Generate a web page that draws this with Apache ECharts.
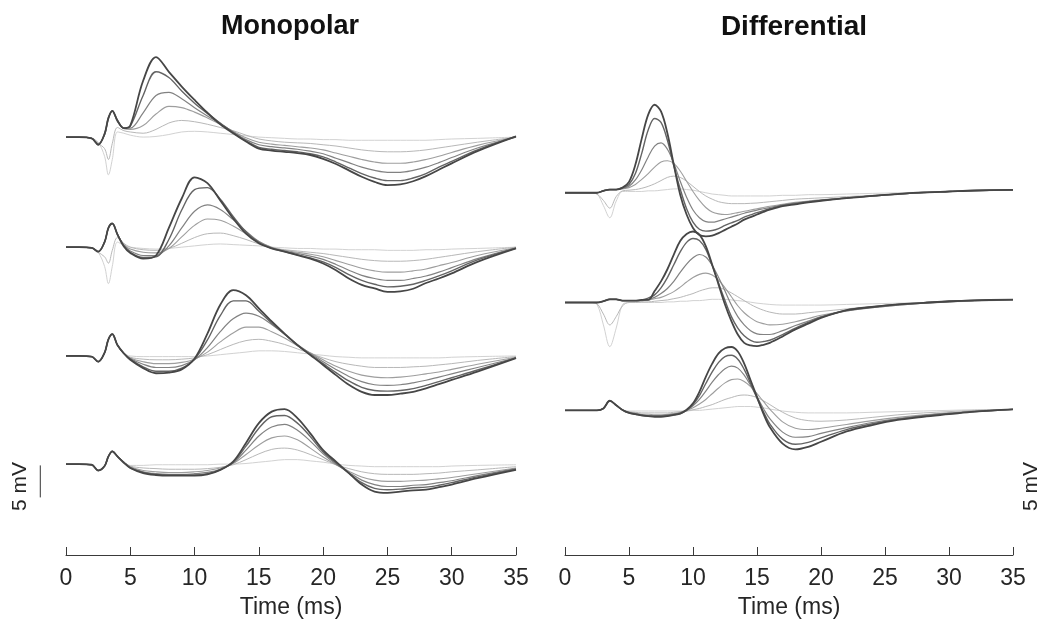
<!DOCTYPE html>
<html>
<head>
<meta charset="utf-8">
<script src="https://cdn.jsdelivr.net/npm/echarts@6/dist/echarts.min.js"></script>
<style>
html,body{margin:0;padding:0;background:#fff;}
#chart{width:1048px;height:621px;}
</style>
</head>
<body>
<div id="chart"></div>
<script>
// ---- time bases (ms) ----
const timeMono = [0,1,2,2.5,3,3.3,3.6,4,4.5,5,6,7,8,9,10,11,12,13,14,15,16,17,18,19,20,21,22,23,24,25,26,27,28,29,30,32,35];
const timeDiff = [0,1,2,2.5,3,3.5,4,4.5,5,5.5,6,6.5,7,7.5,8,8.5,9,9.5,10,10.5,11,11.5,12,12.5,13,13.5,14,14.5,15,15.5,16,17,18,19,20,22,24,26,28,30,32,35];

// ---- channel baselines in the stacked display (mV) ----
const monoBaseMv = [65.3, 48.1, 31.1, 14.2];
const diffBaseMv = [56.6, 39.45, 22.6];

// ---- Monopolar traces (mV), light -> dark ----
const mono1 = [
 [0,0,-0.2,-0.8,-3.0,-5.9,-3.5,0.8,0.6,0.3, 0.0,0.1,0.4,0.8,0.9,0.8,0.6,0.4,0.2,0.0,-0.1,-0.2,-0.3,-0.3,-0.4,-0.4,-0.5,-0.5,-0.5,-0.5,-0.5,-0.5,-0.5,-0.4,-0.3, -0.2,0.0],
 [0,0,-0.2,-1.0,-1.8,-3.5,-1.0,1.5,1.0,0.8, 0.6,1.2,2.2,2.6,2.4,2.0,1.5,1.0,0.3,-0.3,-0.6,-0.8,-0.9,-1.0,-1.2,-1.4,-1.7,-2.0,-2.2,-2.3,-2.3,-2.2,-2.0,-1.7,-1.4, -0.8,0.0],
 [0,0,-0.2,-1.0,0.3,2.8,4.0,2.4,1.3,1.2, 1.8,3.6,4.8,4.6,3.9,3.0,2.0,0.9,-0.1,-0.8,-1.1,-1.3,-1.5,-1.7,-2.0,-2.5,-3.0,-3.5,-3.9,-4.1,-4.1,-3.9,-3.5,-3.0,-2.4, -1.3,0.0],
 [0,0,-0.2,-1.1,0.4,3.0,4.1,2.5,1.4,1.4, 3.8,6.5,7.0,6.0,4.6,3.3,2.1,0.8,-0.4,-1.2,-1.5,-1.7,-1.9,-2.2,-2.6,-3.3,-4.0,-4.7,-5.2,-5.5,-5.5,-5.2,-4.7,-4.0,-3.2, -1.7,0.0],
 [0,0,-0.2,-1.2,0.5,3.0,4.1,2.6,1.4,1.7, 6.5,10.2,9.3,7.2,5.3,3.7,2.2,0.7,-0.6,-1.6,-1.9,-2.1,-2.3,-2.6,-3.1,-3.9,-4.8,-5.7,-6.4,-6.8,-6.8,-6.4,-5.7,-4.7,-3.8, -2.0,0.1],
 [0,0,-0.2,-1.2,0.5,3.0,4.1,2.6,1.4,1.8, 8.8,12.5,10.2,7.9,5.8,3.8,2.0,0.6,-0.7,-1.8,-2.1,-2.3,-2.5,-2.8,-3.4,-4.2,-5.2,-6.2,-7.0,-7.5,-7.4,-6.9,-6.1,-5.1,-4.1, -2.2,0.1]
];
const mono2 = [
 [0,0,-0.1,-0.8,-3.0,-5.7,-3.0,0.8,0.3,0.0, -0.2,-0.3,-0.2,0.0,0.2,0.4,0.5,0.4,0.3,0.2,0.0,-0.1,-0.2,-0.2,-0.3,-0.3,-0.4,-0.4,-0.4,-0.5,-0.5,-0.5,-0.4,-0.4,-0.3, -0.2,0.0],
 [0,0,-0.1,-0.8,-1.5,-2.5,-0.5,1.5,0.6,0.0, -0.4,-0.5,-0.2,0.6,1.5,2.1,2.2,1.8,1.2,0.5,-0.1,-0.4,-0.6,-0.8,-1.0,-1.3,-1.6,-1.9,-2.1,-2.2,-2.2,-2.1,-1.9,-1.6,-1.3, -0.7,0.0],
 [0,0,-0.1,-0.7,0.8,3.0,3.7,2.0,0.4,-0.3, -0.8,-0.9,-0.2,1.6,3.4,4.4,4.2,3.3,2.1,0.9,0.0,-0.5,-0.8,-1.1,-1.5,-2.1,-2.7,-3.3,-3.7,-3.9,-3.9,-3.7,-3.4,-2.9,-2.4, -1.3,-0.1],
 [0,0,-0.1,-0.7,0.8,3.0,3.7,2.0,0.3,-0.6, -1.3,-1.3,0.2,3.0,5.6,6.6,5.9,4.3,2.5,0.9,-0.1,-0.6,-1.0,-1.4,-1.9,-2.7,-3.6,-4.4,-4.9,-5.2,-5.2,-4.9,-4.5,-3.9,-3.2, -1.8,-0.1],
 [0,0,-0.1,-0.7,0.8,3.0,3.7,2.0,0.2,-0.8, -1.6,-1.5,1.2,5.8,9.0,9.3,7.5,4.8,2.4,0.7,-0.2,-0.7,-1.2,-1.7,-2.3,-3.2,-4.3,-5.2,-5.8,-6.2,-6.1,-5.8,-5.2,-4.5,-3.7, -2.0,-0.2],
 [0,0,-0.1,-0.7,0.8,3.0,3.7,2.0,0.1,-0.9, -1.8,-1.3,3.0,7.6,10.9,10.0,7.3,4.5,2.1,0.6,-0.2,-0.7,-1.25,-1.8,-2.55,-3.6,-4.9,-5.9,-6.45,-7.0,-6.9,-6.5,-5.6,-4.9,-4.1, -2.3,-0.2]
];
const mono3 = [
 [0,0,-0.1,-0.9,0.5,2.6,3.4,1.7,0.4,0.0, -0.1,-0.1,-0.1,-0.1,-0.1,0.0,0.2,0.4,0.6,0.8,0.8,0.7,0.5,0.3,0.1,-0.1,-0.2,-0.3,-0.3,-0.3,-0.3,-0.3,-0.3,-0.3,-0.2, -0.1,0.0],
 [0,0,-0.1,-0.9,0.5,2.6,3.4,1.7,0.4,-0.2, -0.5,-0.6,-0.6,-0.5,-0.3,0.2,1.0,1.8,2.4,2.6,2.3,1.8,1.1,0.4,-0.3,-0.9,-1.3,-1.6,-1.8,-1.8,-1.8,-1.7,-1.6,-1.4,-1.2, -0.7,-0.1],
 [0,0,-0.1,-0.9,0.5,2.6,3.4,1.7,0.4,-0.3, -0.9,-1.2,-1.2,-1.0,-0.5,0.6,2.2,3.6,4.5,4.5,3.8,2.8,1.6,0.5,-0.6,-1.6,-2.4,-3.0,-3.3,-3.4,-3.3,-3.1,-2.8,-2.5,-2.1, -1.3,-0.2],
 [0,0,-0.1,-0.9,0.5,2.6,3.4,1.7,0.4,-0.4, -1.3,-1.8,-1.8,-1.5,-0.6,1.3,3.8,5.8,6.7,6.2,4.9,3.4,1.8,0.4,-0.9,-2.1,-3.2,-4.0,-4.5,-4.6,-4.5,-4.2,-3.8,-3.3,-2.8, -1.8,-0.3],
 [0,0,-0.1,-0.9,0.5,2.6,3.4,1.7,0.4,-0.5, -1.7,-2.4,-2.4,-1.9,-0.5,2.5,6.3,8.6,8.6,7.0,5.1,3.4,1.7,0.2,-1.2,-2.6,-3.9,-4.9,-5.4,-5.5,-5.4,-5.1,-4.6,-4.0,-3.4, -2.2,-0.3],
 [0,0,-0.1,-0.9,0.5,2.6,3.4,1.7,0.4,-0.6, -1.9,-2.7,-2.6,-2.1,-0.4,3.5,8.0,10.3,9.5,7.45,5.4,3.5,1.7,0.15,-1.4,-3.0,-4.5,-5.6,-6.1,-6.1,-5.9,-5.6,-5.05,-4.4,-3.75, -2.45,-0.35]
];
const mono4 = [
 [0,0,-0.1,-1.0,-0.3,1.2,2.0,1.2,0.3,-0.2, -0.2,-0.1,-0.1,-0.1,-0.1,-0.1,0.0,0.0,0.1,0.3,0.5,0.7,0.7,0.5,0.3,0.0,-0.2,-0.3,-0.4,-0.4,-0.4,-0.4,-0.4,-0.4,-0.3, -0.2,-0.1],
 [0,0,-0.1,-1.0,-0.3,1.2,2.0,1.2,0.3,-0.3, -0.6,-0.7,-0.8,-0.8,-0.8,-0.7,-0.5,-0.1,0.7,1.6,2.3,2.5,2.2,1.5,0.7,-0.1,-0.7,-1.2,-1.5,-1.6,-1.6,-1.6,-1.5,-1.4,-1.2, -0.9,-0.4],
 [0,0,-0.1,-1.0,-0.3,1.2,2.0,1.2,0.3,-0.4, -1.0,-1.2,-1.3,-1.3,-1.2,-1.0,-0.6,0.1,1.5,3.0,4.1,4.4,3.8,2.5,1.1,-0.1,-1.1,-2.0,-2.5,-2.7,-2.7,-2.6,-2.5,-2.3,-2.1, -1.5,-0.6],
 [0,0,-0.1,-1.0,-0.3,1.2,2.0,1.2,0.3,-0.5, -1.2,-1.5,-1.6,-1.6,-1.5,-1.3,-0.8,0.2,2.2,4.4,5.8,6.2,5.3,3.6,1.6,0.0,-1.3,-2.5,-3.2,-3.5,-3.5,-3.3,-3.2,-2.9,-2.6, -1.8,-0.7],
 [0,0,-0.1,-1.0,-0.3,1.2,2.0,1.2,0.3,-0.6, -1.3,-1.6,-1.7,-1.7,-1.7,-1.5,-0.9,0.3,2.8,5.6,7.4,7.6,6.4,4.3,1.9,0.2,-1.4,-2.9,-3.8,-4.0,-3.9,-3.7,-3.6,-3.3,-2.9, -2.0,-0.8],
 [0,0,-0.1,-1.0,-0.3,1.2,2.0,1.2,0.2,-0.6, -1.4,-1.7,-1.8,-1.8,-1.8,-1.6,-0.9,0.4,3.3,6.4,8.2,8.6,7.2,4.8,2.2,0.4,-1.4,-3.2,-4.3,-4.5,-4.3,-4.1,-4.0,-3.6,-3.2, -2.2,-0.9]
];

// ---- Differential traces (mV), light -> dark ----
const diff1 = [
 [0,0,0,-0.2,-2.0,-3.9,-1.3,0.2,0.2,0.2,0.2,0.3,0.3,0.4,0.5,0.6,0.6,0.5,0.4,0.2,0.0,-0.2,-0.3,-0.4,-0.5,-0.5,-0.5, -0.5,-0.5,-0.5,-0.5, -0.4,-0.4,-0.3,-0.3,-0.2,-0.1,0.0,0.1,0.2,0.3,0.4],
 [0,0,0,-0.2,-1.2,-2.4,-0.6,0.3,0.4,0.5,0.7,1.0,1.4,1.9,2.4,2.6,2.4,1.8,1.0,0.2,-0.5,-1.0,-1.4,-1.6,-1.7,-1.7,-1.7, -1.65,-1.6,-1.5,-1.4, -1.2,-1.0,-0.9,-0.8,-0.6,-0.4,-0.2,0.0,0.2,0.3,0.4],
 [0,0,0,0.0,0.3,0.5,0.5,0.6,0.8,1.3,2.1,3.0,4.0,4.8,5.0,4.6,3.4,1.8,0.2,-1.2,-2.3,-3.0,-3.3,-3.4,-3.3,-3.1,-2.9, -2.7,-2.5,-2.3,-2.1, -1.8,-1.5,-1.3,-1.1,-0.8,-0.5,-0.2,0.0,0.2,0.3,0.4],
 [0,0,0,0.0,0.3,0.5,0.5,0.7,1.0,2.0,3.6,5.6,7.3,7.8,6.8,4.6,1.8,-0.7,-2.7,-3.9,-4.5,-4.6,-4.4,-4.1,-3.8,-3.5,-3.2, -2.95,-2.7,-2.5,-2.3, -1.9,-1.6,-1.4,-1.2,-0.8,-0.5,-0.2,0.0,0.2,0.35,0.45],
 [0,0,0,0.0,0.3,0.5,0.5,0.8,1.3,3.0,6.2,9.8,11.6,11.0,8.2,4.2,0.6,-2.5,-4.6,-5.7,-6.0,-5.9,-5.6,-5.1,-4.7,-4.3,-3.8, -3.45,-3.1,-2.8,-2.5, -2.0,-1.7,-1.4,-1.2,-0.8,-0.5,-0.2,0.05,0.2,0.35,0.45],
 [0,0,0,0.0,0.3,0.5,0.5,0.8,1.7,4.4,8.5,12.2,13.75,12.7,9.3,4.4,-0.3,-3.4,-5.5,-6.6,-6.8,-6.7,-6.3,-5.8,-5.3,-4.8,-4.2, -3.8,-3.4,-3.0,-2.65, -2.1,-1.8,-1.5,-1.25,-0.85,-0.5,-0.2,0.05,0.2,0.35,0.45]
];
const diff2 = [
 [0,0,0,-0.3,-3.5,-6.9,-4.0,-0.3,0.0,0.0,0.0,0.0,0.0,0.0,0.1,0.1,0.2,0.2,0.3,0.3,0.4,0.5,0.5,0.5,0.4,0.3,0.2, 0.05,-0.1,-0.2,-0.3, -0.4,-0.4,-0.4,-0.4,-0.3,-0.2,-0.1,0.0,0.1,0.2,0.4],
 [0,0,0,-0.2,-1.8,-3.5,-2.2,-0.5,0.0,0.0,0.1,0.1,0.2,0.3,0.4,0.6,0.8,1.1,1.4,1.8,2.1,2.3,2.3,2.0,1.5,0.9,0.3, -0.3,-0.8,-1.2,-1.5, -1.8,-1.8,-1.6,-1.4,-1.0,-0.6,-0.3,-0.1,0.1,0.3,0.4],
 [0,0,0,0.0,0.2,0.5,0.5,0.3,0.3,0.3,0.3,0.4,0.6,0.8,1.2,1.7,2.4,3.2,3.9,4.4,4.6,4.3,3.5,2.3,0.9,-0.5,-1.6, -2.4,-3.0,-3.3,-3.5, -3.4,-3.0,-2.5,-2.0,-1.3,-0.8,-0.4,-0.1,0.1,0.3,0.45],
 [0,0,0,0.0,0.2,0.5,0.5,0.3,0.3,0.3,0.3,0.5,0.8,1.4,2.2,3.3,4.7,6.0,7.0,7.5,7.1,5.8,3.9,1.8,-0.4,-2.2,-3.5, -4.4,-4.9,-5.0,-5.0, -4.4,-3.6,-2.9,-2.2,-1.3,-0.8,-0.4,-0.1,0.1,0.3,0.45],
 [0,0,0,0.0,0.2,0.5,0.5,0.3,0.3,0.3,0.4,0.7,1.2,2.3,3.9,5.9,7.9,9.4,10.0,9.7,8.3,5.8,3.0,0.3,-2.2,-4.0,-5.2, -5.9,-6.2,-6.1,-5.9, -5.0,-4.0,-3.1,-2.3,-1.2,-0.7,-0.3,-0.05,0.2,0.35,0.45],
 [0,0,0,0.0,0.2,0.5,0.5,0.3,0.3,0.3,0.4,0.4,1.8,3.3,5.2,7.5,9.6,10.7,11.1,10.6,8.8,5.9,2.8,-0.3,-2.9,-5.0,-6.3, -6.7,-6.8,-6.6,-6.3, -5.3,-4.2,-3.3,-2.4,-1.2,-0.7,-0.3,-0.05,0.2,0.35,0.45]
];
const diff3 = [
 [0,0,0,0.0,0.3,1.5,0.8,0.05,-0.1,-0.1,-0.1,-0.1,-0.1,-0.1,-0.1,-0.1,-0.1,-0.1,0.0,0.0,0.1,0.2,0.3,0.4,0.5,0.6,0.6, 0.6,0.5,0.4,0.2, -0.1,-0.3,-0.4,-0.4,-0.4,-0.3,-0.2,-0.1,0.0,0.1,0.15],
 [0,0,0,0.0,0.3,1.5,0.8,0.05,-0.2,-0.3,-0.4,-0.4,-0.4,-0.4,-0.4,-0.3,-0.2,-0.1,0.1,0.3,0.6,0.9,1.3,1.7,2.0,2.3,2.4, 2.3,2.0,1.5,0.9, -0.3,-1.2,-1.6,-1.7,-1.5,-1.1,-0.7,-0.4,-0.2,0.0,0.15],
 [0,0,0,0.0,0.3,1.5,0.8,0.05,-0.3,-0.4,-0.6,-0.6,-0.7,-0.7,-0.6,-0.5,-0.3,0.0,0.4,1.0,1.7,2.6,3.5,4.3,4.8,4.9,4.5, 3.7,2.6,1.4,0.2, -1.8,-2.8,-3.0,-2.8,-2.2,-1.6,-1.1,-0.7,-0.4,-0.1,0.15],
 [0,0,0,0.0,0.3,1.5,0.8,0.05,-0.3,-0.5,-0.7,-0.8,-0.8,-0.8,-0.7,-0.6,-0.4,0.0,0.7,1.7,3.0,4.4,5.6,6.5,6.9,6.6,5.5, 3.9,2.1,0.3,-1.3, -3.4,-4.2,-4.1,-3.6,-2.7,-1.9,-1.3,-0.8,-0.5,-0.2,0.15],
 [0,0,0,0.0,0.3,1.5,0.8,0.05,-0.4,-0.6,-0.8,-0.9,-0.9,-0.9,-0.8,-0.7,-0.5,0.0,0.9,2.3,4.2,6.0,7.5,8.4,8.6,8.0,6.4, 4.2,1.9,-0.2,-2.1, -4.5,-5.3,-5.0,-4.3,-3.0,-2.1,-1.4,-0.9,-0.5,-0.2,0.15],
 [0,0,0,0.0,0.3,1.5,0.8,0.05,-0.4,-0.6,-0.8,-0.9,-1.0,-1.0,-0.9,-0.7,-0.5,0.1,1.1,2.9,5.25,7.3,8.9,9.7,9.9,9.2,7.3, 4.7,2.1,-0.5,-2.6, -5.2,-6.1,-5.7,-4.9,-3.3,-2.3,-1.5,-1.0,-0.6,-0.2,0.15]
];

// ---- scale bar (mV), its top (mV) and its position (ms) on the left panel ----
const scaleBarMv = 5;
const scaleBarTopMv = 14.0;
const scaleBarTimeMs = -2.0;

const levelColors = ['#d2d2d2','#b8b8b8','#9e9e9e','#828282','#646464','#464646'];
const levelWidths = [1.0, 1.0, 1.1, 1.2, 1.4, 1.8];
const FONT = 'Arial, "Liberation Sans", Helvetica, sans-serif';

const series = [];
function addChannel(traces, time, base, gridIdx){
  traces.forEach((vals, k) => {
    const n = Math.min(vals.length, time.length);
    const data = [];
    for (let i = 0; i < n; i++) data.push([time[i], base + vals[i]]);
    series.push({
      type: 'line', xAxisIndex: gridIdx, yAxisIndex: gridIdx,
      data: data, showSymbol: false, symbol: 'none', smooth: 0.35,
      silent: true, animation: false, z: 2 + k,
      lineStyle: { color: levelColors[k], width: levelWidths[k] }
    });
  });
}
[mono1, mono2, mono3, mono4].forEach((tr, c) => addChannel(tr, timeMono, monoBaseMv[c], 0));
[diff1, diff2, diff3].forEach((tr, c) => addChannel(tr, timeDiff, diffBaseMv[c], 1));

const xAxisCommon = {
  type: 'value', min: 0, max: 35, interval: 5,
  axisLine: { show: true, lineStyle: { color: '#3a3a3a', width: 1 } },
  axisTick: { show: true, inside: true, length: 8, lineStyle: { color: '#3a3a3a' } },
  splitLine: { show: false },
  axisLabel: { fontSize: 23, color: '#262626', fontFamily: FONT, margin: 12 },
  name: 'Time (ms)', nameLocation: 'middle', nameGap: 41,
  nameTextStyle: { fontSize: 23, color: '#262626', fontFamily: FONT }
};
const yAxisCommon = { type: 'value', min: 0, max: 80, show: false };

const textStyle5mV = { text: '5 mV', fontSize: 21, fontFamily: FONT, fill: '#262626',
  align: 'center', verticalAlign: 'middle', textAlign: 'center', textVerticalAlign: 'middle' };

const chart = echarts.init(document.getElementById('chart'), null, { renderer: 'canvas' });
chart.setOption({
  backgroundColor: '#fff',
  animation: false,
  title: [
    { text: 'Monopolar', left: 285, top: 8, textAlign: 'center',
      textStyle: { fontSize: 27, fontWeight: 'bold', color: '#111', fontFamily: FONT } },
    { text: 'Differential', left: 789, top: 8, textAlign: 'center',
      textStyle: { fontSize: 28, fontWeight: 'bold', color: '#111', fontFamily: FONT } }
  ],
  grid: [
    { left: 66, width: 450, top: 43, height: 512, outerBoundsMode: 'none', containLabel: false },
    { left: 565, width: 448, top: 43, height: 512, outerBoundsMode: 'none', containLabel: false }
  ],
  xAxis: [
    Object.assign({ gridIndex: 0 }, xAxisCommon),
    Object.assign({ gridIndex: 1 }, xAxisCommon)
  ],
  yAxis: [
    Object.assign({ gridIndex: 0 }, yAxisCommon),
    Object.assign({ gridIndex: 1 }, yAxisCommon)
  ],
  series: series
});

// scale bar placed through the axis scales of the left panel
const pTop = chart.convertToPixel({ gridIndex: 0 }, [scaleBarTimeMs, scaleBarTopMv]);
const pBot = chart.convertToPixel({ gridIndex: 0 }, [scaleBarTimeMs, scaleBarTopMv - scaleBarMv]);
const pMid = (pTop[1] + pBot[1]) / 2 + 5;
chart.setOption({
  graphic: [
    { type: 'line', shape: { x1: pTop[0], y1: pTop[1], x2: pBot[0], y2: pBot[1] },
      style: { stroke: '#333', lineWidth: 1 }, silent: true },
    { type: 'text', x: pTop[0] - 20, y: pMid, rotation: Math.PI / 2, style: textStyle5mV, silent: true },
    { type: 'text', x: 1031, y: pMid, rotation: Math.PI / 2, style: textStyle5mV, silent: true }
  ]
});
</script>
</body>
</html>
